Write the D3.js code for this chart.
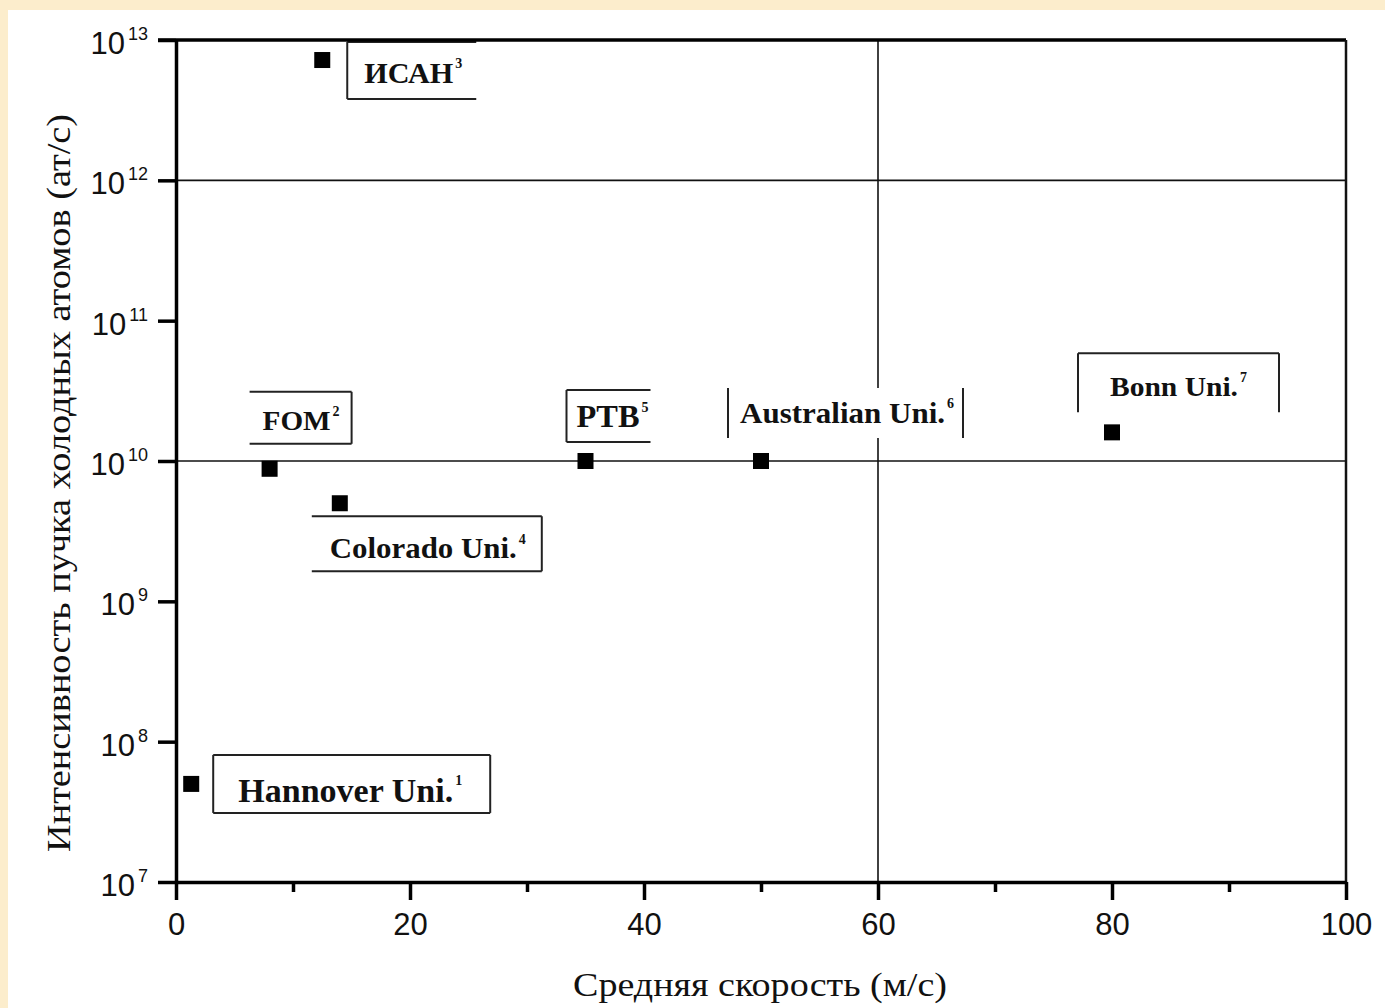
<!DOCTYPE html>
<html>
<head>
<meta charset="utf-8">
<script src="https://cdn.jsdelivr.net/npm/d3@7"></script>
<style>
  body { margin: 0; background: #fcedcc; }
  #chart { width: 1385px; height: 1008px; }
</style>
</head>
<body>
<div id="chart"></div>
<script>
// data
const groups = ["Hannover Uni.", "FOM", "ИСАН", "Colorado Uni.", "PTB", "Australian Uni.", "Bonn Uni."];
const refs = ["1", "2", "3", "4", "5", "6", "7"];
const speed = [1.3, 8, 12.5, 14, 35, 50, 80];
const flux = [5e7, 8.8e9, 7.2e12, 5e9, 1e10, 1e10, 1.6e10];

const xTicks = [0, 20, 40, 60, 80, 100];
const xMinor = [10, 30, 50, 70, 90];
const yTicks = [1e7, 1e8, 1e9, 1e10, 1e11, 1e12, 1e13];
const yExp = ["7", "8", "9", "10", "11", "12", "13"];

// label boxes, offsets from the marker (px): box, drawn sides, text pos, font size, text width
const boxes = [
  {b: [22, -29, 277, 58], s: "tblr", tx: 47, ty: 18, fs: 34, tw: 215},
  {b: [-20, -77, 102, 52], s: "trb", tx: -7, ty: -39, fs: 28, tw: 68},
  {b: [25, -18, 129, 57], s: "tlb", tx: 42, ty: 23, fs: 30, tw: 89},
  {b: [-28, 13, 230, 55], s: "trb", tx: -10, ty: 55, fs: 29, tw: 187},
  {b: [-19, -71, 84, 52], s: "ltb", tx: -9, ty: -34, fs: 31, tw: 63},
  {b: [-33, -73, 235, 50], s: "lr", tx: -21, ty: -38, fs: 30, tw: 205},
  {b: [-34, -79, 201, 59], s: "tlr", tx: -2, ty: -36, fs: 28, tw: 128}
];

const margin = {top: 40, right: 39, bottom: 126, left: 176};
const W = 1385, H = 1008;

const svg = d3.select("#chart").append("svg")
    .attr("width", W)
    .attr("height", H);

svg.append("rect")
    .attr("x", 8).attr("y", 10)
    .attr("width", W - 8).attr("height", H - 10)
    .attr("fill", "#ffffff");

const x = d3.scaleLinear().domain([0, 100]).range([margin.left, W - margin.right]);
const y = d3.scaleLog().domain([1e7, 1e13]).range([H - margin.bottom, margin.top]);

// grid lines (only a few in the original)
svg.selectAll("line.hgrid")
    .data([1e10, 1e12])
    .enter().append("line")
    .attr("class", "hgrid")
    .attr("x1", x(0)).attr("x2", x(100))
    .attr("y1", d => y(d)).attr("y2", d => y(d))
    .attr("stroke", "#111").attr("stroke-width", 1.6);

svg.append("line")
    .attr("x1", x(60)).attr("x2", x(60))
    .attr("y1", y(1e13)).attr("y2", y(1e7))
    .attr("stroke", "#111").attr("stroke-width", 1.6);

// annotations
const pts = groups.map((g, i) => ({name: g, ref: refs[i], px: x(speed[i]), py: y(flux[i]), box: boxes[i]}));

const ann = svg.selectAll("g.ann")
    .data(pts)
    .enter().append("g")
    .attr("class", "ann")
    .attr("transform", d => `translate(${d.px},${d.py})`);

ann.append("rect")
    .attr("x", d => d.box.b[0]).attr("y", d => d.box.b[1])
    .attr("width", d => d.box.b[2]).attr("height", d => d.box.b[3])
    .attr("fill", "#fff");

ann.each(function(d) {
    const g = d3.select(this);
    const [bx, by, bw, bh] = d.box.b;
    const sides = {
        t: [bx, by, bx + bw, by],
        b: [bx, by + bh, bx + bw, by + bh],
        l: [bx, by, bx, by + bh],
        r: [bx + bw, by, bx + bw, by + bh]
    };
    d.box.s.split("").forEach(k => {
        const s = sides[k];
        g.append("line")
            .attr("x1", s[0]).attr("y1", s[1]).attr("x2", s[2]).attr("y2", s[3])
            .attr("stroke", "#222").attr("stroke-width", 2);
    });
    g.append("text")
        .attr("x", d.box.tx).attr("y", d.box.ty)
        .attr("font-family", "'Liberation Serif', 'Times New Roman', serif")
        .attr("font-weight", "bold")
        .attr("font-size", d.box.fs)
        .attr("textLength", d.box.tw)
        .attr("lengthAdjust", "spacingAndGlyphs")
        .attr("fill", "#111")
        .text(d.name);
    g.append("text")
        .attr("x", d.box.tx + d.box.tw + 2)
        .attr("y", d.box.ty - d.box.fs * 0.5)
        .attr("font-family", "'Liberation Serif', 'Times New Roman', serif")
        .attr("font-weight", "bold")
        .attr("font-size", 14)
        .attr("fill", "#111")
        .text(d.ref);
});

// markers
svg.selectAll("rect.pt")
    .data(pts)
    .enter().append("rect")
    .attr("class", "pt")
    .attr("x", d => d.px - 8).attr("y", d => d.py - 8)
    .attr("width", 16).attr("height", 16)
    .attr("fill", "#000");

// frame
svg.append("line")
    .attr("x1", x(0) - 18).attr("x2", x(100))
    .attr("y1", y(1e13)).attr("y2", y(1e13))
    .attr("stroke", "#000").attr("stroke-width", 3.5);
svg.append("line")
    .attr("x1", x(100)).attr("x2", x(100))
    .attr("y1", y(1e13)).attr("y2", y(1e7))
    .attr("stroke", "#111").attr("stroke-width", 2.5);

// x axis
const xAxis = svg.append("g")
    .attr("transform", `translate(0,${y(1e7)})`)
    .call(d3.axisBottom(x).tickValues(xTicks).tickSize(18).tickSizeOuter(0).tickFormat(d3.format("d")));

svg.append("g")
    .attr("transform", `translate(0,${y(1e7)})`)
    .call(d3.axisBottom(x).tickValues(xMinor).tickSize(10).tickSizeOuter(0).tickFormat(""))
    .call(g => g.select(".domain").remove());

svg.selectAll(".tick line").attr("stroke", "#000").attr("stroke-width", 3.5);
xAxis.select(".domain").attr("stroke", "#000").attr("stroke-width", 3.5);
xAxis.selectAll("text")
    .attr("y", 31)
    .attr("font-family", "'Liberation Sans', Arial, sans-serif")
    .attr("font-size", 31)
    .attr("fill", "#111");

// y axis
const yAxis = svg.append("g")
    .attr("transform", `translate(${x(0)},0)`)
    .call(d3.axisLeft(y).tickValues(yTicks).tickSize(18).tickSizeOuter(0).tickFormat(""));

yAxis.select(".domain").attr("stroke", "#000").attr("stroke-width", 3.5);
yAxis.selectAll(".tick line").attr("stroke", "#000").attr("stroke-width", 3.5);

const yLab = svg.selectAll("text.ylab")
    .data(yTicks)
    .enter().append("text")
    .attr("class", "ylab")
    .attr("x", x(0) - 28)
    .attr("y", d => y(d) + 14)
    .attr("text-anchor", "end")
    .attr("font-family", "'Liberation Sans', Arial, sans-serif")
    .attr("fill", "#111");

yLab.append("tspan").attr("font-size", 31).text("10");
yLab.append("tspan")
    .attr("font-size", 18)
    .attr("dx", 3)
    .attr("dy", -14)
    .text((d, i) => yExp[i]);

// axis titles
svg.append("text")
    .attr("x", 573).attr("y", 996)
    .attr("font-family", "'Liberation Serif', 'Times New Roman', serif")
    .attr("font-size", 34)
    .attr("textLength", 374)
    .attr("lengthAdjust", "spacingAndGlyphs")
    .attr("fill", "#111")
    .text("Средняя скорость (м/с)");

svg.append("text")
    .attr("transform", "translate(70,852) rotate(-90)")
    .attr("font-family", "'Liberation Serif', 'Times New Roman', serif")
    .attr("font-size", 33)
    .attr("textLength", 738)
    .attr("lengthAdjust", "spacingAndGlyphs")
    .attr("fill", "#111")
    .text("Интенсивность пучка холодных атомов (ат/с)");
</script>
</body>
</html>
